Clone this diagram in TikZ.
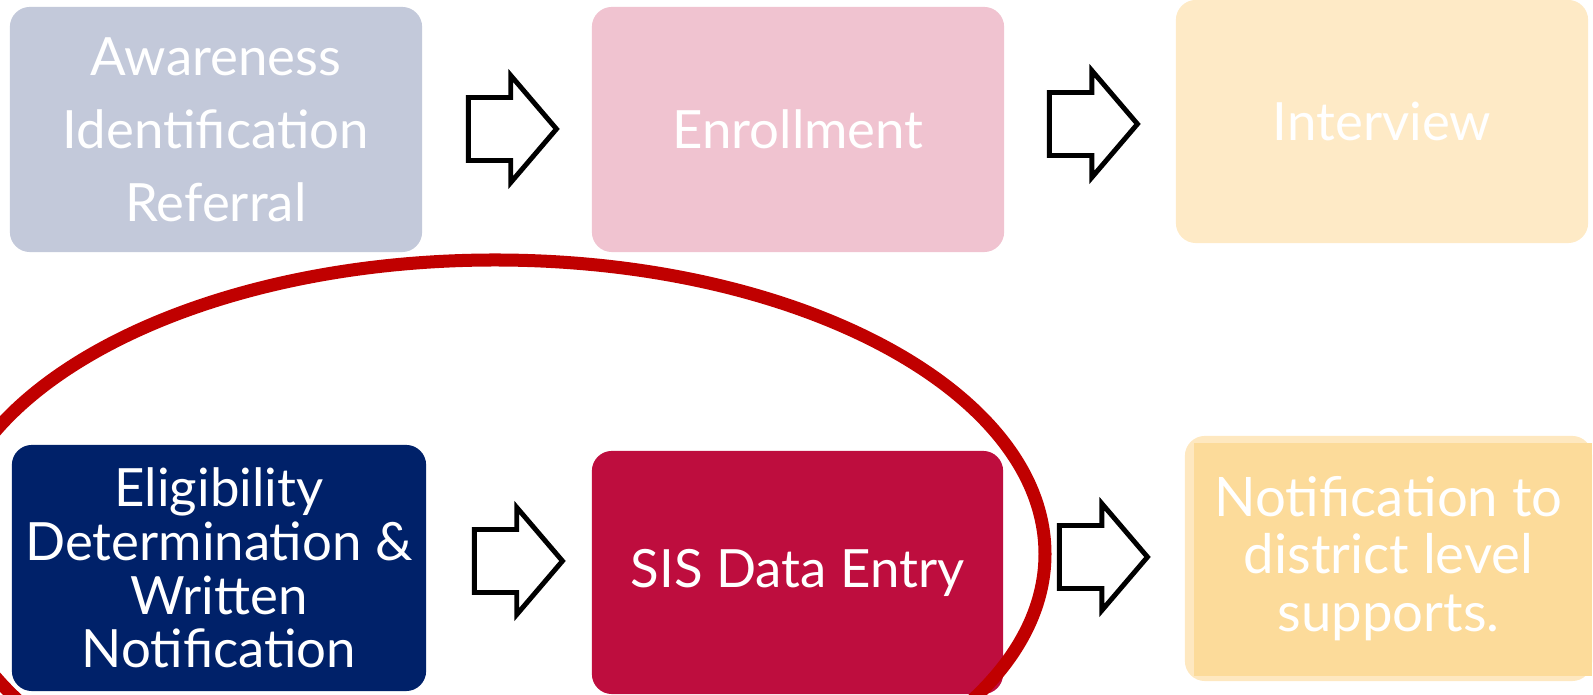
\documentclass[tikz,border=0pt]{standalone}
\usepackage{fontspec}
\setmainfont{Lato}
\usepackage{tikz}
\usetikzlibrary{shapes,positioning}

\definecolor{awaregrey}{HTML}{C3C9DA}
\definecolor{enrollpink}{HTML}{F0C3D0}
\definecolor{interviewyellow}{HTML}{FEEAC6}
\definecolor{eligiblenavy}{HTML}{002169}
\definecolor{siscrimson}{HTML}{BE0D3E}
\definecolor{notifyouter}{HTML}{FEE8C0}
\definecolor{notifyinner}{HTML}{FCDB9A}
\definecolor{ringred}{HTML}{C00000}

\tikzset{
  stepbox/.style={rounded corners=0.2cm, text=white, align=center,
    inner sep=0pt, font=\fontsize{15}{20.8}\selectfont},
  flowarrow/.style={single arrow, draw=black, fill=white, line width=1.4pt,
    single arrow head extend=0.22cm, single arrow head indent=0pt,
    single arrow tip angle=99, inner xsep=0pt, inner ysep=0.29cm,
    minimum height=0.88cm},
}

\begin{document}
\begin{tikzpicture}[x=0.01cm, y=-0.01cm]
      \useasboundingbox (0,0) rectangle (1593,695);
      % top row
      \node[stepbox, fill=awaregrey, minimum width=4.12cm, minimum height=2.45cm] (aware) at (216,129.5) {Awareness\\Identification\\Referral};
      \node[stepbox, fill=enrollpink, minimum width=4.12cm, minimum height=2.45cm] (enroll) at (798,129.5) {Enrollment};
      \node[stepbox, fill=interviewyellow, minimum width=4.12cm, minimum height=2.43cm] (interview) at (1382,121.5) {Interview};
      % bottom row
      \node[stepbox, fill=eligiblenavy, minimum width=4.14cm, minimum height=2.46cm,
            font=\fontsize{15}{15.3}\selectfont] (eligible) at (219,568) {Eligibility\\Determination \&\\Written\\Notification};
      \node[stepbox, fill=siscrimson, minimum width=4.11cm, minimum height=2.43cm] (sis) at (797.5,572.5) {SIS Data Entry};
      \node[stepbox, fill=notifyouter, minimum width=4.07cm, minimum height=2.45cm] (notifyback) at (1388.5,558.5) {};
      \fill[notifyinner] (1194,443) rectangle (1592,676);
      \node[text=white, align=center, font=\fontsize{15.5}{16.4}\selectfont] (notify) at (notifyback.center) {Notification to\\district level\\supports.};
      % arrows
      \node[flowarrow] (arrowa) at (499,129) {};
      \node[flowarrow] (arrowb) at (1080,124) {};
      \node[flowarrow] (arrowc) at (505,561) {};
      \node[flowarrow] (arrowd) at (1090,557) {};
      % ring round the bottom left pair
      \draw[ringred, line width=0.13cm] (495,554) ellipse [x radius=550, y radius=294];
    \end{tikzpicture}
\end{document}
